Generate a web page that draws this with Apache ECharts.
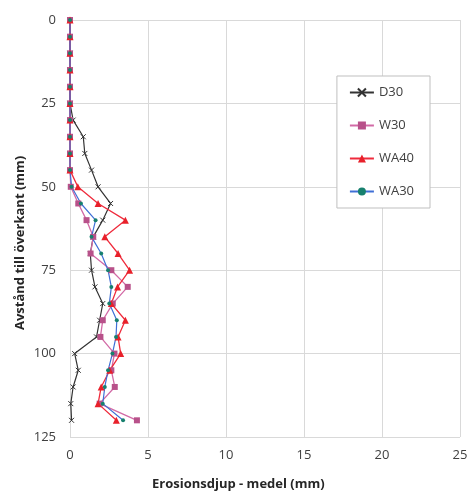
<!DOCTYPE html>
<html>
<head>
<meta charset="utf-8">
<script src="https://cdn.jsdelivr.net/npm/echarts@6/dist/echarts.min.js"></script>
<style>html,body{margin:0;padding:0;background:#fff;}#c{width:471px;height:497px;}</style>
</head>
<body>
<div id="c"></div>
<script>
const depths = [0,5,10,15,20,25,30,35,40,45,50,55,60,65,70,75,80,85,90,95,100,105,110,115,120];
const d30  = [0,0,0,0,0,0,0.2,0.85,0.95,1.38,1.8,2.6,2.1,1.49,1.3,1.38,1.6,2.1,1.9,1.7,0.3,0.53,0.2,0.05,0.1];
const w30  = [0,0,0,0,0,0,0,0,0,0,0.05,0.53,1.06,1.49,1.32,2.65,3.7,2.74,2.1,1.95,2.85,2.65,2.87,1.9,4.29];
const wa40 = [0,0,0,0,0,0,0,0,0,0,0.5,1.8,3.55,2.23,3.08,3.82,3.05,2.65,3.55,3.08,3.25,2.55,2.0,1.8,2.97];
const wa30 = [0,0,0,0,0,0,0,0,0,0,0.1,0.7,1.64,1.38,2.0,2.44,2.65,2.52,3.0,2.95,2.72,2.44,2.23,2.1,3.4];
const xTicks = [0,5,10,15,20,25];
const yTicks = [0,25,50,75,100,125];
const seriesNames = ['D30','W30','WA40','WA30'];

function pts(arr){ return arr.map((v,i)=>[v, depths[i]]); }

const chart = echarts.init(document.getElementById('c'));
const font = 'Open Sans';
chart.setOption({
  animation:false,
  backgroundColor:'#fff',
  grid:{left:70,right:11,top:20,bottom:60},
  xAxis:{type:'value',min:xTicks[0],max:xTicks[xTicks.length-1],interval:5,
    axisLine:{show:false},axisTick:{show:false},
    splitLine:{lineStyle:{color:'#d9d9d9',width:1}},
    axisLabel:{color:'#404040',fontSize:13,fontFamily:font,margin:12}},
  yAxis:{type:'value',inverse:true,min:yTicks[0],max:yTicks[yTicks.length-1],interval:25,
    axisLine:{show:true,lineStyle:{color:'#d9d9d9'}},axisTick:{show:false},
    splitLine:{lineStyle:{color:'#d9d9d9',width:1}},
    axisLabel:{color:'#404040',fontSize:13,fontFamily:font,margin:14}},
  legend:{orient:'vertical',right:41,top:76,itemGap:20,itemWidth:24,itemHeight:10,
    padding:[10,16,10,12],
    borderColor:'#bfbfbf',borderWidth:1,backgroundColor:'#fff',
    textStyle:{color:'#404040',fontSize:13,fontFamily:font},
    data:seriesNames},
  graphic:[
    {type:'text',left:152,top:478,style:{text:'Erosionsdjup - medel (mm)',font:'bold 13px "Open Sans"',fill:'#262626'}},
    {type:'text',rotation:Math.PI/2,x:14,y:330,style:{text:'Avstånd till överkant (mm)',font:'bold 13px "Open Sans"',fill:'#262626'}}
  ],
  series:[
    {name:'D30',type:'line',data:pts(d30),symbol:'path://M0,0L10,10M10,0L0,10',symbolSize:5,
      lineStyle:{color:'#333333',width:1.2},itemStyle:{color:'#333333',borderColor:'#333333',borderWidth:1}},
    {name:'W30',type:'line',data:pts(w30),symbol:'rect',symbolSize:6,
      lineStyle:{color:'#d26aa6',width:1.3},itemStyle:{color:'#b8518a'}},
    {name:'WA40',type:'line',data:pts(wa40),symbol:'triangle',symbolSize:7,
      lineStyle:{color:'#ef2b3c',width:1.3},itemStyle:{color:'#e8202a'}},
    {name:'WA30',type:'line',data:pts(wa30),symbol:'circle',symbolSize:4,
      lineStyle:{color:'#3f6fd6',width:1.2},itemStyle:{color:'#17806e'}}
  ]
});
</script>
</body>
</html>
